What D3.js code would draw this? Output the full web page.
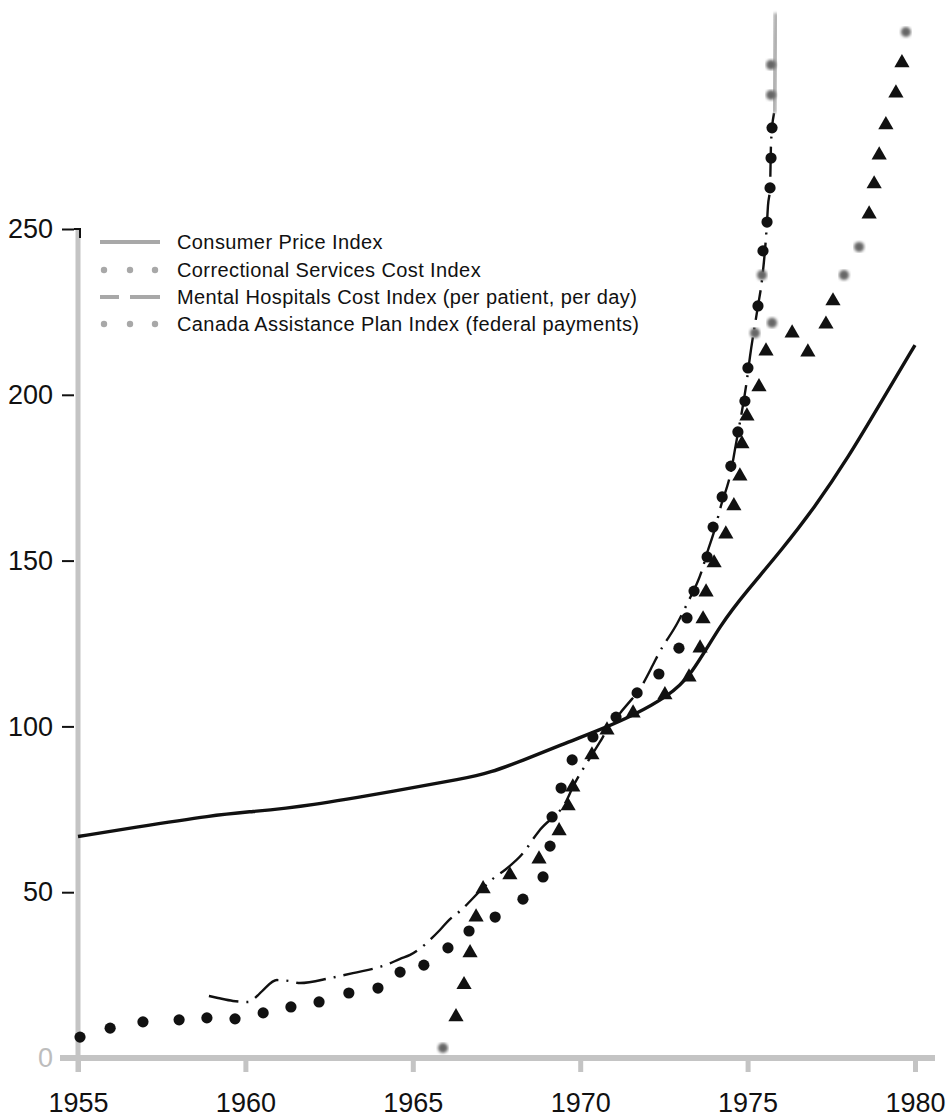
<!DOCTYPE html>
<html>
<head>
<meta charset="utf-8">
<script src="https://cdn.jsdelivr.net/npm/d3@7/dist/d3.min.js"></script>
<style>
  html, body { margin: 0; padding: 0; background: #fff; }
  svg { display: block; font-family: "Liberation Sans", Arial, sans-serif; }
</style>
</head>
<body>
<svg id="chart" width="951" height="1117"></svg>
<script>
// ---------- DATA (year, index value; 1971 = 100) ----------
const xTickYears = [1955, 1960, 1965, 1970, 1975, 1980];
const yTickValues = [0, 50, 100, 150, 200, 250];

const legendLabels = [
  "Consumer Price Index",
  "Correctional Services Cost Index",
  "Mental Hospitals Cost Index (per patient, per day)",
  "Canada Assistance Plan Index (federal payments)"
];

const cpi = [
  [1955.0, 66.8], [1956.6, 69.4], [1959.1, 73.3], [1960.1, 74.2], [1961.9, 76.0],
  [1964.6, 80.8], [1966.5, 84.2], [1967.3, 86.0], [1968.3, 89.8], [1969.4, 94.3], [1970.6, 99.0],
  [1971.6, 103.4], [1972.6, 109.0], [1973.3, 115.0], [1974.2, 131.0], [1975.0, 141.1],
  [1976.0, 153.0], [1977.0, 166.0], [1978.0, 181.0], [1979.0, 198.0], [1980.0, 215.0]
];

const correctional = [
  [1955.06, 6.3], [1955.96, 9.0], [1956.94, 10.9], [1958.02, 11.5], [1958.85, 12.1],
  [1959.69, 11.8], [1960.53, 13.6], [1961.36, 15.4], [1962.20, 16.9], [1963.09, 19.6],
  [1963.96, 21.1], [1964.62, 25.9], [1965.33, 28.0], [1966.05, 33.2], [1966.68, 38.3],
  [1967.46, 42.5], [1968.29, 47.9], [1968.89, 54.6], [1969.10, 63.9], [1969.16, 72.7],
  [1969.43, 81.4], [1969.76, 89.9], [1970.38, 96.8], [1971.07, 102.8], [1971.70, 110.1],
  [1972.35, 115.8], [1972.95, 123.6], [1973.19, 132.7], [1973.40, 140.8], [1973.79, 151.1],
  [1973.97, 160.1], [1974.24, 169.2], [1974.50, 178.5], [1974.71, 188.8], [1974.92, 198.1],
  [1975.01, 208.1], [1975.31, 226.8], [1975.46, 243.4], [1975.58, 252.1], [1975.67, 262.4],
  [1975.70, 271.4], [1975.73, 280.5]
];
const correctionalFaded = [
  [1975.22, 218.6], [1975.43, 236.1], [1975.70, 290.4], [1975.70, 299.5]
];

const mentalHospitals = [
  [1958.91, 18.7], [1959.18, 18.1], [1959.63, 17.2], [1960.08, 16.9], [1960.35, 18.7],
  [1960.53, 20.5], [1960.94, 23.5], [1961.33, 23.2], [1961.63, 22.6], [1962.53, 24.1],
  [1963.21, 25.6], [1964.26, 28.3], [1964.62, 29.9], [1964.92, 31.1], [1965.81, 38.6],
  [1966.08, 41.6], [1966.41, 44.3], [1967.10, 51.3], [1967.46, 54.6], [1967.75, 56.7],
  [1968.41, 63.3], [1968.59, 66.0], [1968.80, 68.8], [1969.60, 77.8], [1969.78, 81.7],
  [1970.35, 91.4], [1970.59, 95.3], [1970.80, 98.9], [1971.19, 104.0], [1971.55, 108.3],
  [1971.70, 110.1], [1972.17, 118.5], [1972.32, 121.5], [1972.92, 131.5], [1973.19, 136.9],
  [1973.64, 147.2], [1973.79, 152.3], [1974.03, 159.8], [1974.18, 165.6], [1974.53, 178.2],
  [1974.62, 183.4], [1974.98, 204.5], [1975.07, 211.4], [1975.31, 226.8], [1975.43, 234.6],
  [1975.58, 252.1], [1975.61, 257.2], [1975.67, 262.4], [1975.70, 275.9], [1975.79, 285.0]
];
const mentalHospitalsFaded = [
  [1975.79, 285.0], [1975.85, 315.1]
];

const assistance = [
  [1966.29, 12.4], [1966.53, 22.1], [1966.71, 31.7], [1966.89, 42.5], [1967.10, 51.0],
  [1967.90, 55.2], [1968.77, 60.0], [1969.37, 68.5], [1969.64, 76.0], [1969.78, 81.7],
  [1970.35, 91.4], [1970.80, 98.9], [1971.58, 104.0], [1972.53, 109.5], [1973.25, 114.9],
  [1973.58, 123.6], [1973.67, 132.4], [1973.76, 140.5], [1974.00, 149.3], [1974.35, 158.0],
  [1974.59, 166.5], [1974.77, 175.5], [1974.83, 185.2], [1974.98, 193.6], [1975.34, 202.4],
  [1975.55, 213.2], [1976.33, 218.6], [1976.80, 212.9], [1977.34, 221.3], [1977.55, 228.3],
  [1978.63, 254.5], [1978.78, 263.6], [1978.93, 272.3], [1979.13, 281.4], [1979.43, 291.0],
  [1979.61, 300.1]
];
const assistanceFaded = [
  [1965.90, 3.0], [1975.73, 221.7], [1977.88, 236.1], [1978.33, 244.6], [1979.73, 309.4]
];

// ---------- CHART ----------
const svg = d3.select("#chart");
const x = d3.scaleLinear().domain([1955, 1980]).range([78, 915]);
const y = d3.scaleLinear().domain([0, 250]).range([1058, 229]);

const axisGray = "#c4c4c4";
const ink = "#111";

const defs = svg.append("defs");
defs.append("filter").attr("id", "soft")
  .append("feGaussianBlur").attr("stdDeviation", 1.6);

// y axis line (gray)
svg.append("line")
  .attr("x1", x(1955)).attr("x2", x(1955))
  .attr("y1", y(250)).attr("y2", y(0) + 14)
  .attr("stroke", axisGray).attr("stroke-width", 5);

// x axis
const xAxis = d3.axisBottom(x).tickValues(xTickYears).tickFormat(d3.format("d"))
  .tickSize(14).tickPadding(21);
const gx = svg.append("g").attr("transform", `translate(0,${y(0)})`).call(xAxis);
gx.select(".domain").remove();
gx.selectAll(".tick line").attr("stroke", axisGray).attr("stroke-width", 5);
gx.selectAll(".tick text").attr("fill", ink).attr("font-size", 27)
  .attr("font-family", "Liberation Sans, Arial, sans-serif");
svg.append("line")
  .attr("x1", 60).attr("x2", 935)
  .attr("y1", y(0)).attr("y2", y(0))
  .attr("stroke", axisGray).attr("stroke-width", 6);

// y axis ticks + labels
const yAxis = d3.axisLeft(y).tickValues(yTickValues).tickFormat(d3.format("d"))
  .tickSize(12).tickPadding(9);
const gy = svg.append("g").attr("transform", `translate(74,0)`).call(yAxis);
gy.select(".domain").remove();
gy.selectAll(".tick line").attr("stroke", ink).attr("stroke-width", 2);
gy.selectAll(".tick text").attr("fill", ink).attr("font-size", 27)
  .attr("font-family", "Liberation Sans, Arial, sans-serif");
gy.selectAll(".tick").filter(d => d === 0).select("line").remove();
gy.selectAll(".tick").filter(d => d === 0).select("text").attr("fill", "#bdbdbd");
svg.append("path")
  .attr("d", `M74,${y(250)} H80 V${y(250) + 9}`)
  .attr("fill", "none").attr("stroke", ink).attr("stroke-width", 2);

// ---------- SERIES ----------
const line = d3.line().x(d => x(d[0])).y(d => y(d[1])).curve(d3.curveMonotoneX);
const smooth = d3.line().x(d => x(d[0])).y(d => y(d[1])).curve(d3.curveBasis);

// CPI
svg.append("path").datum(cpi).attr("d", smooth)
  .attr("fill", "none").attr("stroke", ink).attr("stroke-width", 3.4)
  .attr("stroke-linejoin", "round");

// Mental hospitals (dash-dot)
svg.append("path").datum(mentalHospitals).attr("d", line)
  .attr("fill", "none").attr("stroke", ink).attr("stroke-width", 2.4)
  .attr("stroke-dasharray", "30,8,2,8");
svg.append("path").datum(mentalHospitalsFaded)
  .attr("d", d3.line().x(d => x(d[0])).y(d => y(d[1])))
  .attr("fill", "none").attr("stroke", "#aaa").attr("stroke-width", 5)
  .attr("filter", "url(#soft)");

// Correctional (circles)
svg.append("g").selectAll("circle").data(correctional).join("circle")
  .attr("cx", d => x(d[0])).attr("cy", d => y(d[1])).attr("r", 5.6)
  .attr("fill", ink);
svg.append("g").selectAll("circle").data(correctionalFaded).join("circle")
  .attr("cx", d => x(d[0])).attr("cy", d => y(d[1])).attr("r", 5)
  .attr("fill", "#666").attr("filter", "url(#soft)");

// Canada Assistance Plan (triangles)
const tri = d3.symbol().type(d3.symbolTriangle).size(100);
svg.append("g").selectAll("path").data(assistance).join("path")
  .attr("transform", d => `translate(${x(d[0])},${y(d[1])})`)
  .attr("d", tri).attr("fill", ink);
svg.append("g").selectAll("circle").data(assistanceFaded).join("circle")
  .attr("cx", d => x(d[0])).attr("cy", d => y(d[1])).attr("r", 5)
  .attr("fill", "#666").attr("filter", "url(#soft)");

// ---------- LEGEND ----------
const legendGray = "#a8a8a8";
const lg = svg.append("g");
const rowY = [242, 270, 297, 324];
legendLabels.forEach((t, i) => {
  lg.append("text").attr("x", 177).attr("y", rowY[i] + 7)
    .attr("font-size", 20).attr("letter-spacing", 0.4).attr("fill", ink)
    .text(t);
});
lg.append("line").attr("x1", 100).attr("x2", 160).attr("y1", rowY[0]).attr("y2", rowY[0])
  .attr("stroke", legendGray).attr("stroke-width", 4);
[104, 130, 155].forEach(cx => {
  lg.append("circle").attr("cx", cx).attr("cy", rowY[1]).attr("r", 3.2).attr("fill", legendGray);
  lg.append("circle").attr("cx", cx).attr("cy", rowY[3]).attr("r", 3.2).attr("fill", legendGray);
});
lg.append("line").attr("x1", 100).attr("x2", 119).attr("y1", rowY[2]).attr("y2", rowY[2])
  .attr("stroke", legendGray).attr("stroke-width", 4);
lg.append("line").attr("x1", 130).attr("x2", 160).attr("y1", rowY[2]).attr("y2", rowY[2])
  .attr("stroke", legendGray).attr("stroke-width", 4);
</script>
</body>
</html>
